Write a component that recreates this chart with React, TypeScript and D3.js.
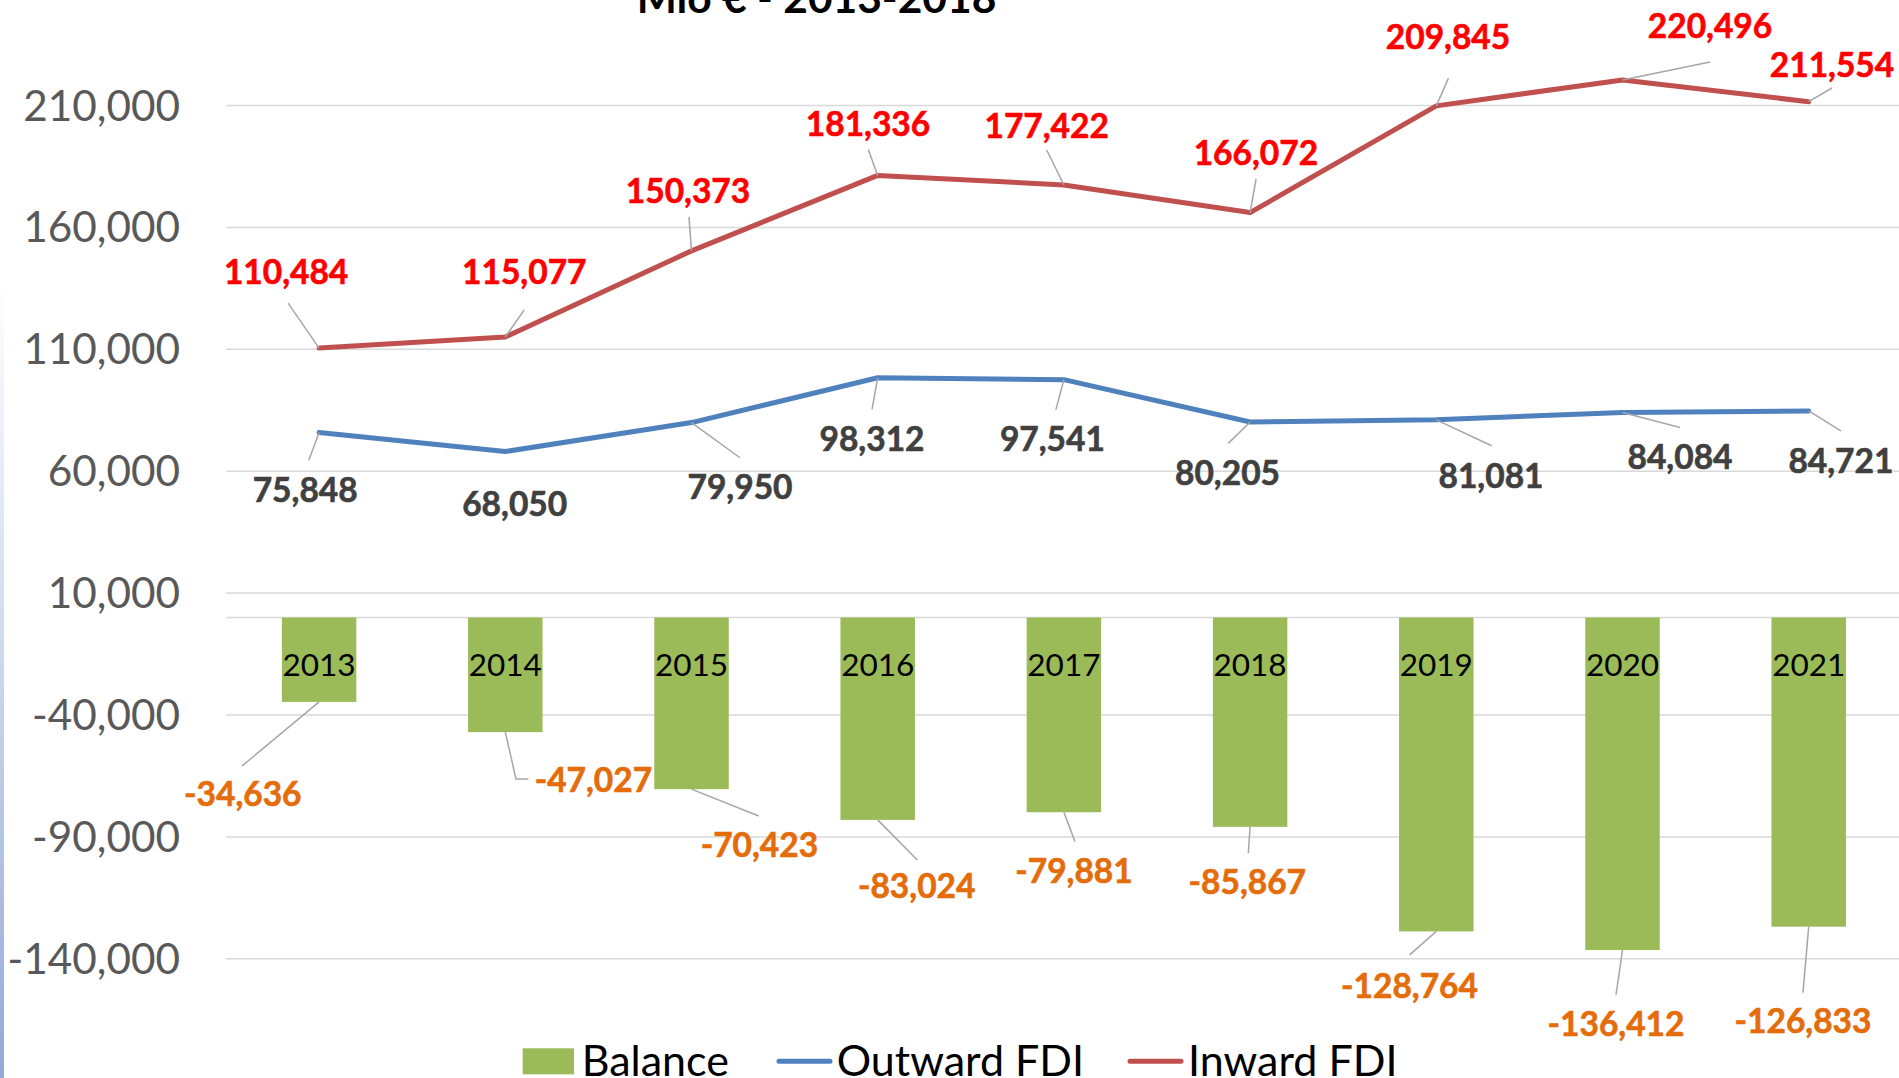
import React from 'react';
import * as d3 from 'd3';

// ---------- data ----------
const years = ['2013', '2014', '2015', '2016', '2017', '2018', '2019', '2020', '2021'];
const inwardFDI = [110484, 115077, 150373, 181336, 177422, 166072, 209845, 220496, 211554];
const outwardFDI = [75848, 68050, 79950, 98312, 97541, 80205, 81081, 84084, 84721];
const balance = [-34636, -47027, -70423, -83024, -79881, -85867, -128764, -136412, -126833];
const yTicks = [210000, 160000, 110000, 60000, 10000, -40000, -90000, -140000];
const titleText = 'Mio € - 2013-2018';
const legendNames = ['Balance', 'Outward FDI', 'Inward FDI'];

// ---------- label layout (pixel offsets from each data point) ----------
const inwardLabelOffset = [[-33, -65], [19, -54], [-3.5, -49], [-9.7, -40.3], [-17.2, -48.2], [5.8, -48.6], [11.7, -57.8], [87.5, -42.9], [23.3, -25.7]];
const inwardLeader = [[[-31, -45]], [[19, -27]], [[-2.5, -34]], [[-9.4, -26]], [[-17.2, -34.9]], [[6, -33.6]], [[12.2, -27.8]], [[87.5, -17.9]], [[23.3, -13.7]]];
const outwardLabelOffset = [[-13.9, 68.2], [9.4, 63.7], [48.5, 75.8], [-5.7, 72.2], [-11.5, 70.3], [-22.6, 62.1], [54.7, 66.9], [57.5, 55.8], [32.2, 60.8]];
const outwardLeader = [[[-10.3, 27.6]], [], [[48.5, 35.2]], [[-5.7, 31.6]], [[-8, 30]], [[-21.8, 21.4]], [[55.4, 25.9]], [[57.5, 15]], [[32.2, 20]]];
const balanceLabelOffset = [[-76.3, 103], [88.1, 58.5], [67.9, 66.4], [39, 76.8], [10.1, 69.4], [-2.8, 66.1], [-26.8, 65.2], [-6.5, 84.9], [-5.7, 104.9]];
const balanceLeader = [[[-77, 64]], [[10.7, 46.8], [23.1, 46.8]], [[67.2, 26.8]], [[39.6, 40.1]], [[11.1, 29.4]], [[-1.8, 26.4]], [[-26.7, 23.5]], [[-6.5, 44.9]], [[-5.7, 65.9]]];

const W = 1899;
const H = 1078;
const FONT = 'Lato, "Open Sans", sans-serif';

const fmt = d3.formatLocale({ decimal: '.', thousands: ',', grouping: [3], currency: ['', ''], minus: '-' }).format(',');

export default function App() {
  const x = d3.scaleBand<string>().domain(years).range([226, 1901.8]).paddingInner(0.6).paddingOuter(0.3);
  const y = d3.scaleLinear().domain([-140000, 210000]).range([958.8, 105.5]);
  const cx = (i: number) => (x(years[i]) as number) + x.bandwidth() / 2;

  const line = d3.line<number>().x((_, i) => cx(i)).y((d) => y(d));

  const leaderPath = (ax: number, ay: number, pts: number[][]) => {
    if (!pts.length) return null;
    const p = d3.path();
    p.moveTo(ax, ay);
    pts.forEach(([dx, dy]) => p.lineTo(ax + dx, ay + dy));
    return p.toString();
  };

  const labelSet = (
    values: number[],
    offsets: number[][],
    leaders: number[][][],
    color: string,
    key: string
  ) =>
    values.map((v, i) => {
      const ax = cx(i);
      const ay = y(v);
      const d = leaderPath(ax, ay, leaders[i]);
      return (
        <g key={key + i}>
          {d && <path d={d} fill="none" stroke="#A6A6A6" strokeWidth={1.5} />}
          <text
            x={ax + offsets[i][0]}
            y={ay + offsets[i][1] + 1}
            textAnchor="middle"
            fontFamily={FONT}
            fontWeight={700}
            fontSize={33.5}
            fill={color}
            stroke={color}
            strokeWidth={0.6}
          >
            {fmt(v)}
          </text>
        </g>
      );
    });

  const zeroY = y(0);

  return (
    <svg width={W} height={H} style={{ position: 'fixed', left: 0, top: 0, background: '#fff' }}>
      <defs>
        <linearGradient id="edge" x1="0" y1="0" x2="0" y2="1">
          <stop offset="0" stopColor="#ffffff" />
          <stop offset="0.3" stopColor="#dfe7f5" />
          <stop offset="1" stopColor="#93a9d8" />
        </linearGradient>
      </defs>
      <rect x={0} y={0} width={W} height={H} fill="#ffffff" />
      <rect x={0} y={280} width={4} height={H - 280} fill="url(#edge)" />

      {/* title (cut off at top) */}
      <text x={816.5} y={12.5} textAnchor="middle" fontFamily={FONT} fontWeight={700} fontSize={42.5} fill="#000">
        {titleText}
      </text>

      {/* gridlines */}
      {yTicks.map((t) => (
        <line key={'g' + t} x1={226} x2={W} y1={y(t)} y2={y(t)} stroke="#D9D9D9" strokeWidth={1.5} />
      ))}
      <line x1={226} x2={W} y1={zeroY} y2={zeroY} stroke="#D9D9D9" strokeWidth={1.5} />

      {/* y tick labels */}
      {yTicks.map((t) => (
        <text key={'t' + t} x={180} y={y(t) + 15} textAnchor="end" fontFamily={FONT} fontSize={42.3} fill="#595959">
          {fmt(t)}
        </text>
      ))}

      {/* bars */}
      {balance.map((v, i) => (
        <rect
          key={'b' + i}
          x={x(years[i]) as number}
          y={Math.min(y(v), zeroY)}
          width={x.bandwidth()}
          height={Math.abs(y(v) - zeroY)}
          fill="#9BBB59"
        />
      ))}

      {/* category labels */}
      {years.map((yr, i) => (
        <text key={'c' + yr} x={cx(i)} y={zeroY + 59} textAnchor="middle" fontFamily={FONT} fontSize={31.5} fill="#000">
          {yr}
        </text>
      ))}

      {/* lines */}
      <path d={line(outwardFDI) as string} fill="none" stroke="#4F81BD" strokeWidth={5} strokeLinejoin="round" strokeLinecap="round" />
      <path d={line(inwardFDI) as string} fill="none" stroke="#C0504D" strokeWidth={5} strokeLinejoin="round" strokeLinecap="round" />

      {/* data labels */}
      {labelSet(inwardFDI, inwardLabelOffset, inwardLeader, '#FF0000', 'in')}
      {labelSet(outwardFDI, outwardLabelOffset, outwardLeader, '#404040', 'out')}
      {labelSet(balance, balanceLabelOffset, balanceLeader, '#E46C0A', 'bal')}

      {/* legend */}
      <g fontFamily={FONT} fontSize={43} fill="#000">
        <rect x={522.7} y={1048.3} width={51.3} height={26} fill="#9BBB59" />
        <text x={581.7} y={1076}>{legendNames[0]}</text>
        <line x1={779} x2={830} y1={1061.3} y2={1061.3} stroke="#4F81BD" strokeWidth={5} strokeLinecap="round" />
        <text x={836.7} y={1076}>{legendNames[1]}</text>
        <line x1={1130} x2={1181} y1={1061.3} y2={1061.3} stroke="#C0504D" strokeWidth={5} strokeLinecap="round" />
        <text x={1188} y={1076}>{legendNames[2]}</text>
      </g>
    </svg>
  );
}
